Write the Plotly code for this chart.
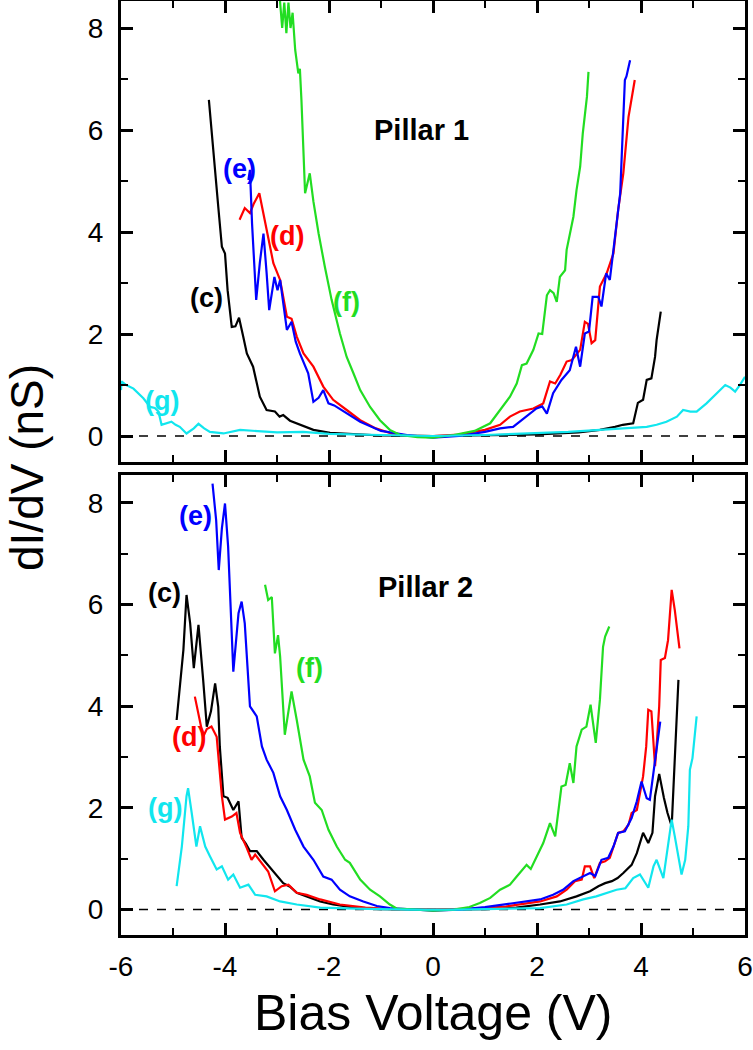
import plotly.graph_objects as go

# ---------------- data: Pillar 1 (top panel) ----------------
c1_x = [-4.31, -4.22, -4.13, -4.06, -4.0, -3.95, -3.87, -3.8, -3.73, -3.65, -3.58, -3.46, -3.33, -3.2,
        -3.04, -2.95, -2.88, -2.75, -2.62, -2.3, -1.98, -1.5, -1.0, 0.0, 1.0, 2.0, 2.8, 3.21, 3.5, 3.65,
        3.85, 3.94, 4.04, 4.11, 4.2, 4.27, 4.3, 4.38]
c1_y = [6.59, 5.48, 4.5, 3.71, 3.58, 2.86, 2.14, 2.15, 2.32, 1.95, 1.62, 1.36, 0.77, 0.51,
        0.48, 0.38, 0.41, 0.3, 0.25, 0.12, 0.06, 0.03, 0.01, 0.0, 0.01, 0.03, 0.07, 0.12, 0.18, 0.22,
        0.25, 0.65, 0.71, 1.1, 1.13, 1.55, 1.88, 2.44]

d1_x = [-3.72, -3.62, -3.52, -3.45, -3.34, -3.26, -3.17, -3.07, -2.94, -2.81, -2.72, -2.62, -2.49,
        -2.3, -2.11, -1.92, -1.66, -1.4, -1.1, -0.8, -0.5, 0.0, 0.5, 1.0, 1.29, 1.48, 1.67, 1.93, 2.12,
        2.25, 2.35, 2.45, 2.57, 2.67, 2.83, 2.92, 2.98, 3.05, 3.12, 3.21, 3.34, 3.47, 3.56, 3.66, 3.76, 3.88]
d1_y = [4.24, 4.47, 4.37, 4.55, 4.76, 4.37, 3.91, 3.39, 3.06, 2.34, 2.3, 1.95, 1.62,
        1.36, 0.97, 0.71, 0.51, 0.31, 0.15, 0.05, 0.01, 0.0, 0.03, 0.12, 0.22, 0.38, 0.48, 0.54, 0.64,
        1.07, 1.03, 1.2, 1.46, 1.49, 1.69, 2.24, 2.2, 1.82, 1.88, 2.93, 3.19, 3.58, 4.43, 5.15, 6.26, 6.98]

e1_x = [-3.55, -3.52, -3.48, -3.4, -3.33, -3.26, -3.2, -3.15, -3.05, -2.99, -2.94, -2.81, -2.72, -2.64,
        -2.56, -2.4, -2.3, -2.2, -2.11, -2.01, -1.9, -1.66, -1.4, -1.0, -0.5, 0.0, 0.5, 1.0, 1.29, 1.54,
        1.8, 1.99, 2.1, 2.19, 2.31, 2.47, 2.63, 2.75, 2.83, 2.92, 3.0, 3.07, 3.18, 3.24, 3.33, 3.4, 3.47,
        3.6, 3.69, 3.72, 3.79]
e1_y = [5.02, 5.22, 4.17, 2.67, 3.4, 3.97, 3.2, 2.47, 3.12, 2.86, 3.06, 2.08, 2.24, 1.85,
        1.62, 1.23, 0.67, 0.75, 0.9, 0.64, 0.6, 0.44, 0.28, 0.1, 0.02, -0.03, 0.0, 0.08, 0.15, 0.18,
        0.38, 0.54, 0.58, 0.44, 0.84, 1.1, 1.29, 1.75, 1.36, 2.01, 2.05, 2.73, 2.73, 2.54, 3.19, 3.06, 3.65,
        4.76, 6.98, 7.05, 7.37]

f1_x = [-2.96, -2.94, -2.9, -2.86, -2.82, -2.78, -2.74, -2.7, -2.65, -2.59, -2.56, -2.53, -2.46, -2.4,
        -2.37, -2.3, -2.2, -2.08, -1.95, -1.79, -1.66, -1.53, -1.4, -1.21, -1.02, -0.83, -0.63, -0.3, 0.0,
        0.4, 0.8, 1.1, 1.29, 1.48, 1.61, 1.71, 1.8, 1.93, 2.03, 2.1, 2.19, 2.25, 2.32, 2.38, 2.44, 2.54,
        2.57, 2.63, 2.7, 2.76, 2.83, 2.88, 2.96, 2.99]
f1_y = [8.9, 8.5, 8.0, 8.5, 7.9, 8.5, 8.0, 8.3, 7.57, 7.11, 7.2, 6.59, 4.76, 5.0,
        5.15, 4.6, 3.97, 3.32, 2.67, 2.01, 1.55, 1.23, 0.9, 0.57, 0.31, 0.12, 0.02, -0.02, -0.03,
        0.02, 0.1, 0.25, 0.51, 0.77, 1.03, 1.39, 1.42, 1.69, 2.01, 2.0, 2.76, 2.86, 2.8, 2.63, 3.12, 3.25,
        3.65, 3.97, 4.3, 4.82, 5.28, 5.93, 6.65, 7.14]

g1_x = [-6.0, -5.99, -5.9, -5.76, -5.57, -5.44, -5.35, -5.28, -5.22, -5.1, -5.03, -4.95, -4.87, -4.74,
        -4.6, -4.51, -4.4, -4.29, -4.15, -4.03, -3.71, -3.39, -3.0, -2.5, -2.0, -1.0, 0.0, 1.0, 2.0, 2.6,
        3.21, 3.7, 4.11, 4.3, 4.49, 4.69, 4.81, 4.95, 5.07, 5.26, 5.45, 5.62, 5.72, 5.81, 5.9, 6.0]
g1_y = [0.9, 1.07, 1.0, 0.93, 0.74, 0.57, 0.55, 0.48, 0.22, 0.25, 0.28, 0.22, 0.18, 0.05,
        0.15, 0.24, 0.15, 0.08, 0.06, 0.05, 0.12, 0.1, 0.07, 0.08, 0.04, 0.02, 0.0, 0.02, 0.05, 0.08,
        0.12, 0.15, 0.18, 0.22, 0.28, 0.38, 0.51, 0.48, 0.48, 0.64, 0.84, 1.0, 0.95, 0.87, 1.0, 1.16]

# ---------------- data: Pillar 2 (bottom panel) ----------------
c2_x = [-4.93, -4.83, -4.8, -4.74, -4.67, -4.6, -4.51, -4.42, -4.35, -4.27, -4.19, -4.13, -4.1, -4.03,
        -3.95, -3.84, -3.74, -3.68, -3.6, -3.52, -3.39, -3.26, -3.13, -3.0, -2.88, -2.75, -2.62, -2.43,
        -2.17, -1.92, -1.5, -1.0, 0.0, 1.0, 1.6, 2.06, 2.44, 2.76, 3.02, 3.18, 3.31, 3.44, 3.55, 3.66,
        3.82, 3.92, 3.98, 4.04, 4.14, 4.22, 4.27, 4.35, 4.44, 4.51, 4.59, 4.65, 4.72]
c2_y = [3.73, 4.78, 5.11, 6.19, 5.63, 4.75, 5.6, 4.52, 3.6, 3.9, 4.45, 3.99, 3.21, 2.23,
        2.2, 1.96, 2.13, 1.41, 1.3, 1.15, 1.15, 0.98, 0.82, 0.65, 0.52, 0.45, 0.33, 0.26,
        0.16, 0.1, 0.04, 0.01, 0.0, 0.01, 0.04, 0.1, 0.16, 0.26, 0.36, 0.46, 0.52, 0.56, 0.62, 0.72,
        0.88, 1.11, 1.31, 1.51, 1.31, 1.51, 2.23, 2.67, 2.2, 1.9, 1.64, 3.0, 4.52]

d2_x = [-4.58, -4.51, -4.42, -4.35, -4.26, -4.16, -4.06, -4.0, -3.87, -3.78, -3.71, -3.58, -3.49,
        -3.42, -3.29, -3.17, -3.04, -2.91, -2.78, -2.62, -2.43, -2.17, -1.79, -1.3, -0.8, 0.0, 0.8, 1.4,
        2.06, 2.38, 2.57, 2.73, 2.86, 2.92, 3.02, 3.1, 3.21, 3.31, 3.4, 3.5, 3.56, 3.66, 3.76, 3.82, 3.92,
        3.98, 4.04, 4.1, 4.14, 4.2, 4.27, 4.3, 4.35, 4.38, 4.46, 4.52, 4.59, 4.65, 4.74]
d2_y = [4.19, 3.86, 3.4, 3.55, 3.6, 3.4, 2.23, 1.77, 1.83, 1.9, 1.51, 1.21, 0.98,
        1.08, 0.92, 0.75, 0.36, 0.46, 0.49, 0.33, 0.29, 0.2, 0.1, 0.04, 0.01, 0.0, 0.02, 0.06,
        0.16, 0.26, 0.39, 0.56, 0.59, 0.85, 0.85, 0.62, 0.92, 0.95, 1.02, 1.31, 1.51, 1.54, 1.67, 1.9, 1.96,
        2.29, 2.62, 3.21, 3.93, 3.9, 2.82, 3.21, 4.0, 4.91, 4.95, 5.3, 6.29, 5.89, 5.14]

e2_x = [-4.24, -4.17, -4.12, -4.06, -4.0, -3.94, -3.84, -3.74, -3.68, -3.62, -3.52, -3.39, -3.29, -3.2,
        -3.07, -2.94, -2.81, -2.65, -2.49, -2.3, -2.11, -1.95, -1.79, -1.6, -1.34, -1.08, -0.83, -0.4,
        0.0, 0.5, 1.0, 1.5, 2.06, 2.31, 2.5, 2.7, 2.89, 3.02, 3.12, 3.24, 3.37, 3.47, 3.56, 3.69, 3.82,
        3.92, 4.01, 4.11, 4.17, 4.27, 4.37]
e2_y = [8.38, 7.66, 6.68, 7.5, 7.99, 7.14, 4.68, 5.83, 6.06, 5.63, 4.0, 3.8, 3.21, 2.95,
        2.69, 2.23, 1.96, 1.57, 1.24, 0.98, 0.65, 0.59, 0.39, 0.26, 0.16, 0.07, 0.03, 0.0,
        -0.02, 0.0, 0.05, 0.12, 0.2, 0.29, 0.39, 0.56, 0.65, 0.72, 0.66, 0.98, 1.02, 1.24, 1.51, 1.54, 1.8,
        2.13, 2.52, 2.19, 2.16, 2.91, 3.7]

f2_x = [-3.23, -3.17, -3.1, -3.04, -2.98, -2.94, -2.9, -2.85, -2.78, -2.72, -2.62, -2.49, -2.37, -2.27,
        -2.14, -2.01, -1.85, -1.69, -1.6, -1.4, -1.21, -1.02, -0.83, -0.7, -0.3, 0.0, 0.4, 0.7, 0.9, 1.1,
        1.29, 1.48, 1.61, 1.8, 1.88, 1.99, 2.12, 2.25, 2.35, 2.47, 2.55, 2.63, 2.7, 2.76, 2.86, 2.95, 3.03,
        3.13, 3.21, 3.27, 3.31, 3.39]
f2_y = [6.39, 6.09, 6.15, 5.04, 5.4, 4.98, 4.3, 3.44, 3.9, 4.29, 3.73, 2.95, 2.62, 2.1,
        1.96, 1.57, 1.24, 0.98, 0.92, 0.59, 0.39, 0.26, 0.1, 0.02, 0.0, -0.02, 0.0, 0.05, 0.13, 0.23,
        0.39, 0.49, 0.65, 0.88, 0.8, 1.02, 1.31, 1.7, 1.44, 2.42, 2.45, 2.88, 2.49, 3.21, 3.54, 3.6, 4.03,
        3.28, 4.13, 5.17, 5.37, 5.57]

g2_x = [-4.93, -4.83, -4.74, -4.71, -4.64, -4.55, -4.48, -4.38, -4.29, -4.16, -4.06, -3.94, -3.84, -3.71,
        -3.55, -3.42, -3.2, -2.94, -2.62, -2.17, -1.5, -0.5, 0.5, 1.5, 2.06, 2.57, 2.89, 3.14, 3.34, 3.53,
        3.7, 3.85, 3.98, 4.14, 4.24, 4.3, 4.43, 4.53, 4.59, 4.65, 4.72, 4.78, 4.85, 4.91, 4.94, 4.99, 5.07]
g2_y = [0.46, 1.24, 2.23, 2.39, 1.9, 1.24, 1.64, 1.24, 1.05, 0.79, 0.85, 0.59, 0.69, 0.43,
        0.49, 0.29, 0.26, 0.16, 0.1, 0.04, 0.02, 0.0, 0.0, 0.01, 0.03, 0.1, 0.2, 0.26, 0.33, 0.39,
        0.42, 0.62, 0.69, 0.43, 0.85, 0.98, 0.62, 1.31, 1.77, 1.44, 1.05, 0.69, 0.98, 1.64, 2.75, 2.98, 3.8]

x_ticks = [-6, -4, -2, 0, 2, 4, 6]
y_ticks = [0, 2, 4, 6, 8]
panel_titles = ["Pillar 1", "Pillar 2"]
curve_labels = ["(c)", "(d)", "(e)", "(f)", "(g)"]

# ---------------- styling ----------------
COL = {"(c)": "#000000", "(d)": "#ff0000", "(e)": "#0000ff", "(f)": "#22dd22", "(g)": "#11e6ee"}
FONT = "Liberation Sans, Arial, sans-serif"

fig = go.Figure()

top = [(c1_x, c1_y, "(c)"), (d1_x, d1_y, "(d)"), (e1_x, e1_y, "(e)"), (f1_x, f1_y, "(f)"), (g1_x, g1_y, "(g)")]
bot = [(c2_x, c2_y, "(c)"), (d2_x, d2_y, "(d)"), (e2_x, e2_y, "(e)"), (f2_x, f2_y, "(f)"), (g2_x, g2_y, "(g)")]

for xs, ys, lab in top:
    fig.add_trace(go.Scatter(x=xs, y=ys, mode="lines", line=dict(color=COL[lab], width=2.2),
                             xaxis="x2", yaxis="y2", showlegend=False, hoverinfo="skip"))
for xs, ys, lab in bot:
    fig.add_trace(go.Scatter(x=xs, y=ys, mode="lines", line=dict(color=COL[lab], width=2.2),
                             xaxis="x", yaxis="y", showlegend=False, hoverinfo="skip"))

axis_common = dict(showline=True, linewidth=3, linecolor="black", mirror="allticks",
                   ticks="inside", ticklen=12, tickwidth=2.5, tickcolor="black",
                   showgrid=False, zeroline=False,
                   tickfont=dict(family=FONT, size=28, color="black"))

xminor = dict(ticks="inside", ticklen=7, tickwidth=2, tickcolor="black", dtick=1, showgrid=False)
yminor = dict(ticks="inside", ticklen=7, tickwidth=2, tickcolor="black", dtick=1, showgrid=False)

fig.update_layout(
    width=753, height=1050,
    margin=dict(l=121, r=8, t=1, b=115, autoexpand=False),
    paper_bgcolor="white", plot_bgcolor="white",
    xaxis=dict(domain=[0, 1], anchor="y", range=[-6, 6], tickmode="array", tickvals=x_ticks,
               ticktext=[str(v) for v in x_ticks], minor=xminor, ticklabelstandoff=4, **axis_common),
    xaxis2=dict(domain=[0, 1], anchor="y2", range=[-6, 6], matches="x", tickmode="array", tickvals=x_ticks,
                showticklabels=False, minor=xminor, **axis_common),
    yaxis=dict(domain=[0, 0.4925], anchor="x", range=[-0.5, 8.55], tickmode="array", tickvals=y_ticks,
               ticktext=[str(v) for v in y_ticks], minor=yminor, ticklabelstandoff=9, **axis_common),
    yaxis2=dict(domain=[0.5064, 1], anchor="x2", range=[-0.51, 8.53], tickmode="array", tickvals=y_ticks,
                ticktext=[str(v) for v in y_ticks], minor=yminor, ticklabelstandoff=9, **axis_common),
)

# dashed zero lines
for xr, yr in (("x", "y"), ("x2", "y2")):
    fig.add_shape(type="line", xref=xr, yref=yr, x0=-6, x1=6, y0=0, y1=0,
                  line=dict(color="black", width=1.5, dash="dash"), layer="below")

# panel titles
fig.add_annotation(x=-0.22, y=6.0, xref="x2", yref="y2", text="<b>%s</b>" % panel_titles[0],
                   showarrow=False, font=dict(family=FONT, size=29, color="black"))
fig.add_annotation(x=-0.15, y=6.35, xref="x", yref="y", text="<b>%s</b>" % panel_titles[1],
                   showarrow=False, font=dict(family=FONT, size=29, color="black"))

# curve labels
top_pos = {"(c)": (-4.35, 2.7), "(d)": (-2.81, 3.92), "(e)": (-3.73, 5.24), "(f)": (-1.66, 2.62), "(g)": (-5.22, 0.69)}
bot_pos = {"(c)": (-5.17, 6.23), "(d)": (-4.69, 3.4), "(e)": (-4.56, 7.74), "(f)": (-2.38, 4.76), "(g)": (-5.15, 2.0)}
for lab in curve_labels:
    px, py = top_pos[lab]
    fig.add_annotation(x=px, y=py, xref="x2", yref="y2", text="<b>%s</b>" % lab, showarrow=False,
                       font=dict(family=FONT, size=27, color=COL[lab]))
    px, py = bot_pos[lab]
    fig.add_annotation(x=px, y=py, xref="x", yref="y", text="<b>%s</b>" % lab, showarrow=False,
                       font=dict(family=FONT, size=27, color=COL[lab]))

# axis titles
fig.add_annotation(x=(433 - 121) / 624, y=(935 - 1013) / 934, xref="paper", yref="paper",
                   text="Bias Voltage (V)", showarrow=False, xanchor="center", yanchor="middle",
                   font=dict(family=FONT, size=50, color="black"))
fig.add_annotation(x=(27 - 121) / 624, y=(935 - 468) / 934, xref="paper", yref="paper",
                   text="dI/dV (nS)", showarrow=False, textangle=-90, xanchor="center", yanchor="middle",
                   font=dict(family=FONT, size=46, color="black"))

fig.write_html("out.html", config={"displayModeBar": False},
               post_script="document.body.style.margin='0';")
